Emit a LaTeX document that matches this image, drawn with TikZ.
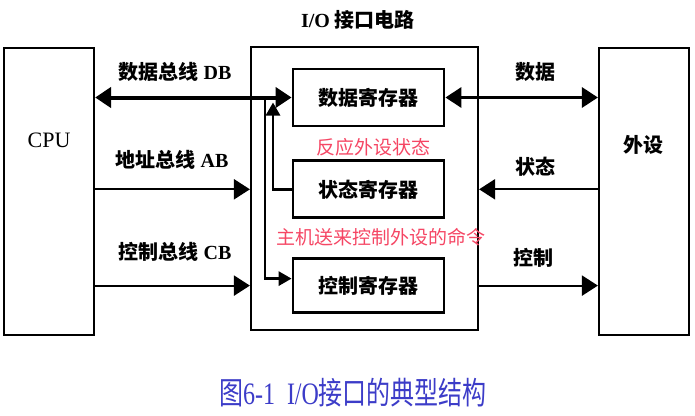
\documentclass[tikz,border=0pt]{standalone}
\usepackage{fontspec}
\setmainfont{Liberation Serif}
\newfontfamily\cjk{Noto Sans CJK SC}
\usetikzlibrary{arrows.meta, positioning, calc}
\usepackage{xcolor}
\definecolor{notecolor}{RGB}{245,70,100}
\definecolor{captioncolor}{RGB}{60,60,200}
\newcommand{\zh}[1]{{\cjk #1}}

\begin{document}
\begin{tikzpicture}[
    x=1pt, y=-1pt,
    unit/.style={rectangle, draw, line width=2.2pt, minimum width=90pt, minimum height=287pt, inner sep=0pt},
    reg/.style={rectangle, draw, line width=2.8pt, minimum width=151pt, minimum height=57pt, font=\bfseries\fontsize{20}{20}\selectfont},
    busname/.style={inner sep=0pt, font=\bfseries\fontsize{20}{20}\selectfont},
    note/.style={inner sep=0pt, text=notecolor, font=\cjk\fontsize{19}{19}\selectfont},
    bus/.style={line width=2.2pt, >={Triangle[length=16pt,width=20pt]}},
    link/.style={line width=2.8pt, >={Triangle[length=13pt,width=14pt]}},
    node distance=32pt
]
    \useasboundingbox (0,0) rectangle (695,415);

    % CPU
    \node[unit] (cpu) at (49,191.5) {};
    \node[font=\fontsize{22}{22}\selectfont] (cpulbl) at (49,140) {CPU};

    % I/O interface
    \node[rectangle, draw, line width=2.2pt, minimum width=227pt, minimum height=283pt] (io) at (364.5,188.5) {};
    \node[busname] (iolbl) at (358,20) {I/O \zh{接口电路}};
    \node[reg] (datareg) at (368.5,97.5) {\zh{数据寄存器}};
    \node[reg, below=of datareg] (statreg) {\zh{状态寄存器}};
    \node[reg, minimum height=54pt, below=38pt of statreg] (ctrlreg) {\zh{控制寄存器}};
    \node[note] (statnote) at (373,147) {反应外设状态};
    \node[note] (cmdnote) at (381,237) {主机送来控制外设的命令};

    % Peripheral
    \node[unit] (dev) at (644,191.5) {};
    \node[busname] (devlbl) at (643,145) {\zh{外设}};

    % Bus labels
    \node[busname] (dblbl) at (175,72) {\zh{数据总线} DB};
    \node[busname] (ablbl) at (172,160) {\zh{地址总线} AB};
    \node[busname] (cblbl) at (175,252) {\zh{控制总线} CB};
    \node[busname] (datalbl) at (535,72) {\zh{数据}};
    \node[busname] (statlbl) at (535,167) {\zh{状态}};
    \node[busname] (ctrllbl) at (533,258) {\zh{控制}};

    % CPU side buses
    \draw[bus, <->, line width=4pt] (cpu.east |- datareg.west) -- (datareg.west);
    \draw[bus, ->] (cpu.east |- statreg.west) -- (io.west |- statreg.west);
    \draw[bus, ->] (cpu.east |- ctrlreg.west) -- (io.west |- ctrlreg.west);

    % Inside the interface
    \coordinate (tap) at (265,0);
    \coordinate (fb) at (273,0);
    \draw[link, ->] (tap |- datareg.west) |- ([yshift=7pt]ctrlreg.west);
    \draw[link, ->] (statreg.west) -| ($(fb |- datareg.west)+(0,5)$);

    % Peripheral side
    \draw[bus, <->, line width=3.2pt] (datareg.east) -- (dev.west |- datareg.east);
    \draw[bus, ->] (dev.west |- statreg.east) -- (io.east |- statreg.east);
    \draw[bus, ->] (io.east |- ctrlreg.east) -- (dev.west |- ctrlreg.east);

    % Caption
    \node[text=captioncolor, font=\fontsize{24}{24}\selectfont, yscale=1.3] (caption) at (353,393) {\zh{图}6-1\ \ I/O\zh{接口的典型结构}};
\end{tikzpicture}
\end{document}
